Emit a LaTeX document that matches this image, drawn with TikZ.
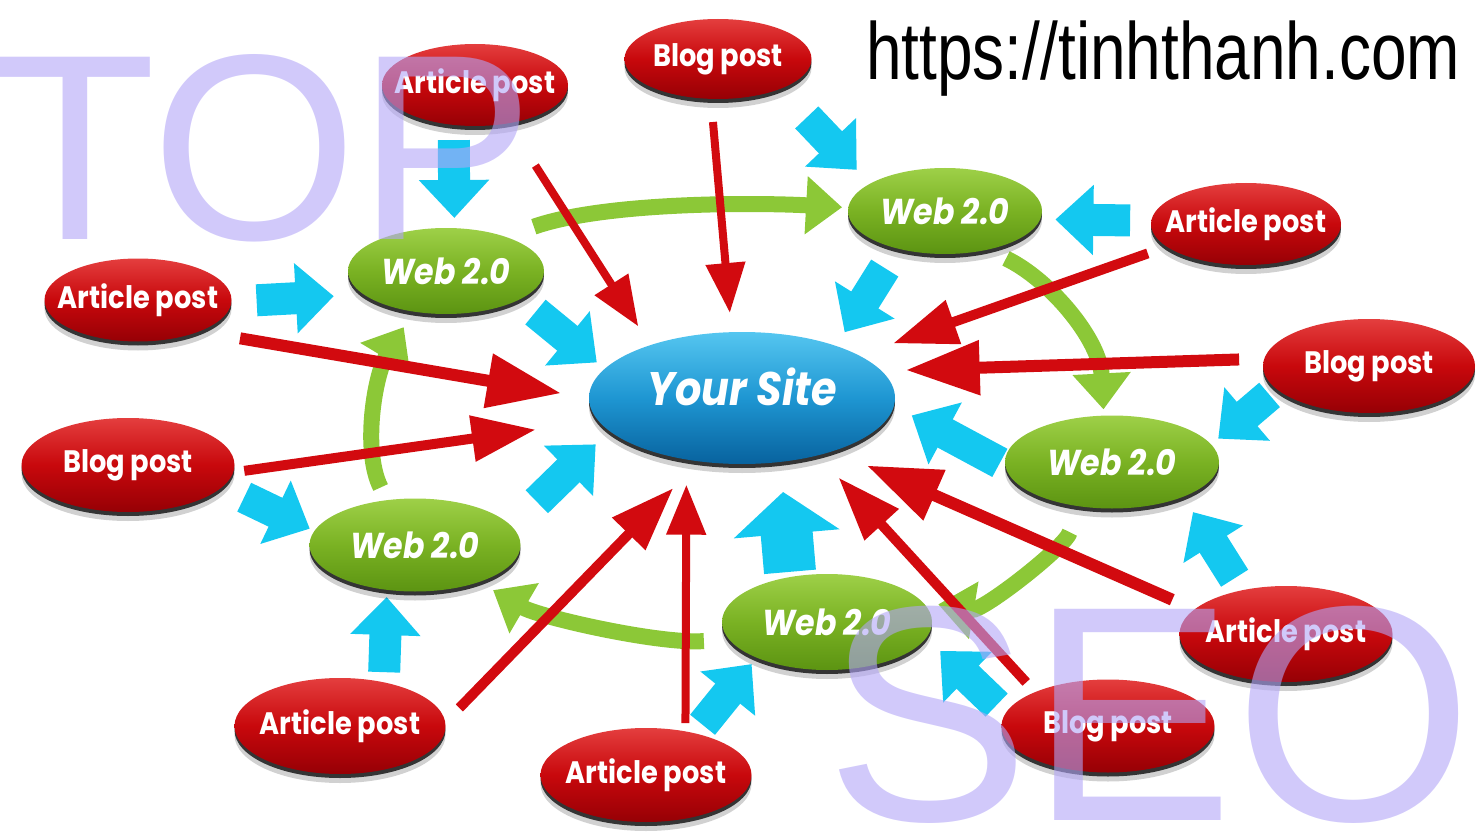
\documentclass[tikz,border=0pt]{standalone}
\usepackage{fontspec}
\usepackage{tikz}
\usetikzlibrary{arrows.meta,shapes.geometric,shadows}
\newfontfamily\postfont[FakeStretch=0.88]{Poppins}
\newfontfamily\urlfont[FakeStretch=0.79]{Liberation Sans}
\newfontfamily\seofont{Liberation Sans}
\newcommand{\postlbl}[1]{\makebox[0pt]{#1}}
\definecolor{postred}{RGB}{200,8,12}
\definecolor{postredlight}{RGB}{228,62,62}
\definecolor{postreddark}{RGB}{150,0,5}
\definecolor{webgreen}{RGB}{122,178,35}
\definecolor{webgreenlight}{RGB}{158,208,72}
\definecolor{webgreendark}{RGB}{92,148,18}
\definecolor{siteblue}{RGB}{30,150,210}
\definecolor{sitebluelight}{RGB}{85,198,240}
\definecolor{sitebluedark}{RGB}{8,98,158}
\definecolor{arrowred}{RGB}{210,10,15}
\definecolor{arrowcyan}{RGB}{20,200,240}
\definecolor{arrowgreen}{RGB}{140,200,55}
\definecolor{seolilac}{RGB}{178,165,247}
\pgfdeclarelayer{back}
\pgfdeclarelayer{front}
\pgfsetlayers{back,main,front}

\begin{document}
\begin{tikzpicture}[x=1pt,y=-1pt,
	post/.style={ellipse, inner sep=0pt, text=white,
		drop shadow={shadow xshift=0pt, shadow yshift=-9pt, opacity=.18, fill=black},
		drop shadow={shadow xshift=0pt, shadow yshift=-4pt, opacity=.85, fill=black!90}},
	redpost/.style 2 args={post, minimum width=#1pt, minimum height=#2pt,
		font=\postfont\bfseries\fontsize{31}{31}\selectfont,
		top color=postredlight, bottom color=postreddark, middle color=postred},
	webpost/.style 2 args={post, minimum width=#1pt, minimum height=#2pt,
		font=\postfont\bfseries\itshape\fontsize{36}{36}\selectfont,
		top color=webgreenlight, bottom color=webgreendark, middle color=webgreen},
	sitepost/.style={post, minimum width=306pt, minimum height=132pt, text depth=22pt,
		font=\postfont\bfseries\itshape\fontsize{47}{47}\selectfont,
		top color=sitebluelight, bottom color=sitebluedark, middle color=siteblue},
	redarrow/.style={draw=arrowred, line width=10pt, -{Triangle[length=64pt,width=44pt]}},
	thinred/.style={line width=8pt, -{Triangle[length=50pt,width=38pt]}},
	thickred/.style={line width=12pt, -{Triangle[length=74pt,width=52pt]}},
	bluearrow/.style={draw=arrowcyan, line width=32pt, -{Triangle[length=38pt,width=68pt]}},
	bigblue/.style={line width=52pt, -{Triangle[length=42pt,width=104pt]}},
	greenarrow/.style={draw=arrowgreen, line width=16pt, -{Triangle[length=36pt,width=56pt]}},
	bigtext/.style={anchor=base west, inner sep=0pt, text=seolilac, text opacity=.6}]
	\useasboundingbox (0,0) rectangle (1484,840);
	% 
	\node[sitepost] (site) at (742,398) {\postlbl{Your Site}};
	% 
	\node[webpost={196}{86}] (web1) at (446,271) {\postlbl{Web 2.0}};
	\node[webpost={194}{86}] (web2) at (945,211) {\postlbl{Web 2.0}};
	\node[webpost={214}{93}] (web3) at (1112,462) {\postlbl{Web 2.0}};
	\node[webpost={211}{93}] (web4) at (415,545) {\postlbl{Web 2.0}};
	\node[webpost={210}{96}] (web5) at (827,622) {\postlbl{Web 2.0}};
	% 
	\node[redpost={186}{82}] (ap1) at (475,85) {\postlbl{Article post}};
	\node[redpost={187}{80}] (bp1) at (718,59) {\postlbl{Blog post}};
	\node[redpost={190}{82}] (ap2) at (1246,224) {\postlbl{Article post}};
	\node[redpost={187}{83}] (ap3) at (138,300) {\postlbl{Article post}};
	\node[redpost={212}{94}] (bp2) at (1369,366) {\postlbl{Blog post}};
	\node[redpost={213}{94}] (bp3) at (128,465) {\postlbl{Blog post}};
	\node[redpost={213}{96}] (ap4) at (1286,634) {\postlbl{Article post}};
	\node[redpost={211}{96}] (ap5) at (340,726) {\postlbl{Article post}};
	\node[redpost={211}{94}] (ap6) at (646,775) {\postlbl{Article post}};
	\node[redpost={213}{93}] (bp4) at (1108,726) {\postlbl{Blog post}};
	% 
	\begin{pgfonlayer}{back}
		% green ring
		\draw[greenarrow, shorten <=30pt, shorten >=6pt] (web1.30) .. controls +(100,-35) and +(-90,-5) .. (web2.178);
		\draw[greenarrow, shorten <=20pt, shorten >=6pt] (web2.-42) .. controls +(62,30) and +(-4,-76) .. (web3.100);
		\draw[greenarrow, shorten <=27pt, shorten >=16pt] (web3.-129) .. controls +(-10,40) and +(60,10) .. (web5.12);
		\draw[greenarrow, shorten <=25pt, shorten >=16pt] (web5.190) .. controls +(-70,5) and +(60,35) .. (web4.-30);
		\draw[greenarrow, shorten <=14pt, shorten >=18pt] (web4.122) .. controls +(-25,-50) and +(-38,63) .. (web1.-129);
		% red links
		\draw[redarrow, thinred, shorten <=50pt, shorten >=22pt] (ap1.-49) -- (site.150);
		\draw[redarrow, thinred, shorten <=23pt, shorten >=19pt] (bp1.-100) -- (site.99);
		\draw[redarrow, thickred, shorten <=41pt, shorten >=28pt] (ap3.-27) -- (site.180);
		\draw[redarrow, shorten <=11pt, shorten >=63pt] (bp3.-4) -- (site.189);
		\draw[redarrow, shorten <=20pt, shorten >=37pt] (ap5.2) -- (site.-124);
		\draw[redarrow, thinred, shorten <=8pt, shorten >=25pt] (ap6.48) -- (site.-132);
		\draw[redarrow, shorten <=13pt, shorten >=30pt] (bp4.155) -- (site.-37);
		\draw[redarrow, thickred, shorten <=24pt, shorten >=36pt] (ap4.165) -- (site.-30);
		\draw[redarrow, shorten <=20pt, shorten >=36pt] (ap2.196) -- (site.20);
		\draw[redarrow, thickred, shorten <=25pt, shorten >=24pt] (bp2.176) -- (site.11);
		% blue block arrows
		\draw[bluearrow, shorten <=15pt, shorten >=10pt] (ap1.-118) -- (web1.79);
		\draw[bluearrow, shorten <=25pt, shorten >=30pt] (ap3.-1) -- (web1.196);
		\draw[bluearrow, shorten <=20pt, shorten >=10pt] (web1.-21) -- (site.168);
		\draw[bluearrow, shorten <=39pt, shorten >=19pt] (bp1.-26) -- (web2.160);
		\draw[bluearrow, shorten <=21pt, shorten >=15pt] (ap2.178) -- (web2.-5);
		\draw[bluearrow, shorten <=23pt, shorten >=16pt] (web2.-142) -- (site.29);
		\draw[bluearrow, shorten <=35pt, shorten >=19pt] (web4.11) -- (site.194);
		\draw[bluearrow, shorten <=24pt, shorten >=5pt] (bp3.-13) -- (web4.172);
		\draw[bluearrow, shorten <=10pt, shorten >=7pt] (ap5.45) -- (web4.-122);
		\draw[bluearrow, shorten <=11pt, shorten >=8pt] (ap6.40) -- (web5.207);
		\draw[bluearrow, bigblue, shorten <=5pt, shorten >=30pt] (web5.129) -- (site.-59);
		\draw[bluearrow, shorten <=6pt, shorten >=20pt] (web3.182) -- (site.-3);
		\draw[bluearrow, shorten <=9pt, shorten >=9pt] (bp2.194) -- (web3.10);
		\draw[bluearrow, shorten <=14pt, shorten >=18pt] (ap4.135) -- (web3.-26);
		\draw[bluearrow, shorten <=12pt, shorten >=19pt] (bp4.173) -- (web5.-9);
	\end{pgfonlayer}
	% 
	\begin{pgfonlayer}{front}
		\node[anchor=base west, inner sep=0pt, font=\urlfont\fontsize{81}{81}\selectfont] (url) at (866,80) {https://tinhthanh.com};
		\node[bigtext, font=\seofont\fontsize{265}{265}\selectfont] (top) at (-6,240) {TOP};
		\node[bigtext, font=\seofont\fontsize{307}{307}\selectfont] (seo) at (825,820) {SEO};
	\end{pgfonlayer}
\end{tikzpicture}
\end{document}
